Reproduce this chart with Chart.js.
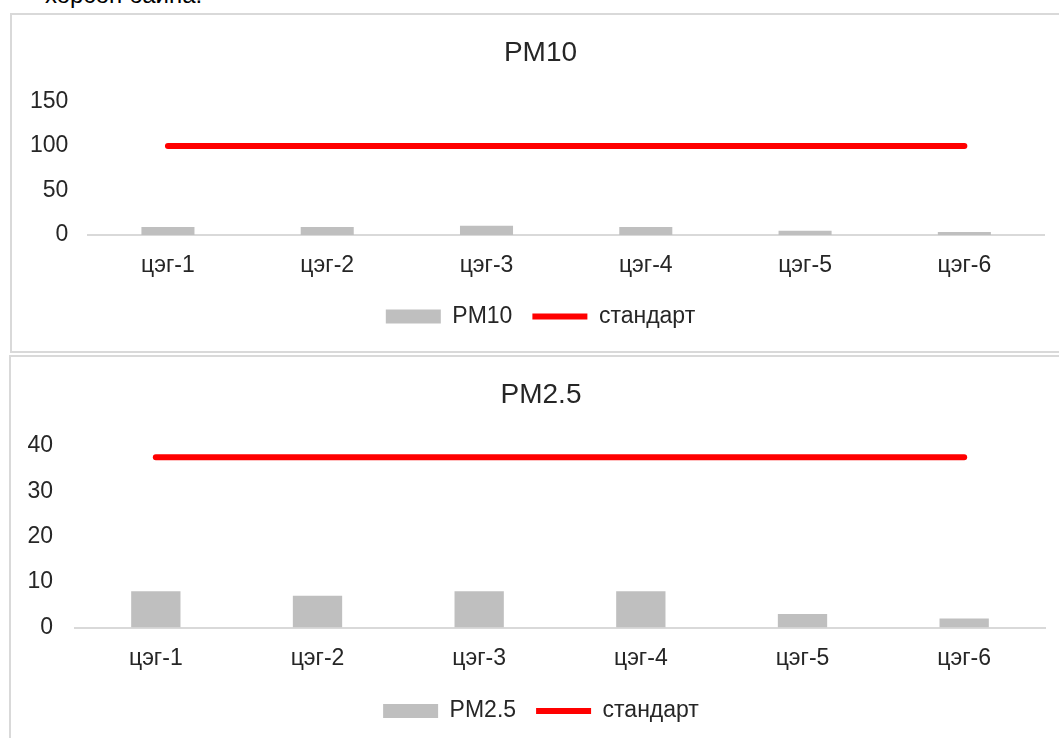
<!DOCTYPE html>
<html>
<head>
<meta charset="utf-8">
<script src="https://cdn.jsdelivr.net/npm/chart.js@4"></script>
<style>
  html, body { margin: 0; padding: 0; background: #fff; overflow: hidden; width: 1059px; height: 738px; }
  .note { position: absolute; left: 45px; top: -19px; font: 24px 'Liberation Sans', Arial, sans-serif; line-height: 28px; color: #000; white-space: nowrap; }
  .box { position: absolute; border: 2px solid #d9d9d9; background: #fff; }
  .plot { position: relative; }
</style>
</head>
<body>
<div class="note">хорсон байна.</div>
<div class="box" style="left:10px; top:13px; width:1100px; height:336px;">
  <div class="plot" style="width:1047px; height:336px;"><canvas id="pm10Chart"></canvas></div>
</div>
<div class="box" style="left:9px; top:355px; width:1100px; height:400px;">
  <div class="plot" style="width:1048px; height:390px;"><canvas id="pm25Chart"></canvas></div>
</div>
<script>
// categories and values
const categories = ['цэг-1', 'цэг-2', 'цэг-3', 'цэг-4', 'цэг-5', 'цэг-6'];

const pm10Values = [9, 9, 10.5, 9, 4.7, 3.3];
const pm10Standard = [100, 100, 100, 100, 100, 100];
const pm10Ticks = [0, 50, 100, 150];

const pm25Values = [8, 7, 8, 8, 3, 2];
const pm25Standard = [37.5, 37.5, 37.5, 37.5, 37.5, 37.5];
const pm25Ticks = [0, 10, 20, 30, 40];

Chart.defaults.font.family = "'Liberation Sans', Arial, sans-serif";
Chart.defaults.color = '#262626';

function makeChart(id, title, seriesName, values, standard, ticks, cfg) {
  const ctx = document.getElementById(id).getContext('2d');
  return new Chart(ctx, {
    type: 'bar',
    data: {
      labels: categories,
      datasets: [{
        label: seriesName,
        data: values,
        backgroundColor: '#bfbfbf',
        borderWidth: 0,
        barPercentage: cfg.barPct,
        categoryPercentage: 1,
        pointStyle: 'rect',
      }, {
        type: 'line',
        label: 'стандарт',
        data: standard,
        borderColor: '#ff0000',
        backgroundColor: '#ff0000',
        borderWidth: 6,
        borderCapStyle: 'round',
        pointRadius: 0,
        pointStyle: 'line',
      }],
    },
    options: {
      responsive: true,
      maintainAspectRatio: false,
      animation: false,
      layout: { padding: { left: cfg.padLeft, right: cfg.padRight, top: 0, bottom: cfg.padBottom } },
      plugins: {
        title: {
          display: true,
          text: title,
          font: { size: 28, weight: 'normal' },
          padding: { top: 21.2, bottom: cfg.titleBottom },
        },
        legend: {
          position: 'bottom',
          labels: {
            usePointStyle: true,
            pointStyleWidth: 55,
            boxHeight: 14,
            padding: 20,
            font: { size: 23 },
          },
        },
        tooltip: { enabled: false },
      },
      scales: {
        x: {
          grid: { display: false, drawTicks: false },
          border: { color: '#d9d9d9', width: 2 },
          ticks: { padding: 17, font: { size: 23 } },
          afterFit: (scale) => { scale.height = cfg.xHeight; },
        },
        y: {
          min: ticks[0],
          max: ticks[ticks.length - 1],
          grid: { display: false, drawTicks: false },
          border: { display: false },
          ticks: { stepSize: ticks[1] - ticks[0], padding: cfg.yPad, font: { size: 23 } },
          afterFit: (scale) => { scale.width = cfg.yWidth; },
        },
        // empty right-hand axis, only keeps the plot centred under the title
        yRight: {
          position: 'right',
          grid: { display: false, drawTicks: false },
          border: { display: false },
          ticks: { display: false },
          afterFit: (scale) => { scale.width = cfg.rightWidth; },
        },
      },
    },
  });
}

makeChart('pm10Chart', 'PM10', 'PM10', pm10Values, pm10Standard, pm10Ticks,
  { barPct: 0.333, padLeft: 16, padRight: 6, rightWidth: 9, padBottom: 13, xHeight: 50,
    titleBottom: 31.7, yPad: 20, yWidth: 60.3 });
makeChart('pm25Chart', 'PM2.5', 'PM2.5', pm25Values, pm25Standard, pm25Ticks,
  { barPct: 0.305, padLeft: 14, padRight: 2, rightWidth: 12, padBottom: 14.5, xHeight: 52,
    titleBottom: 34.2, yPad: 22, yWidth: 50 });
</script>
</body>
</html>
